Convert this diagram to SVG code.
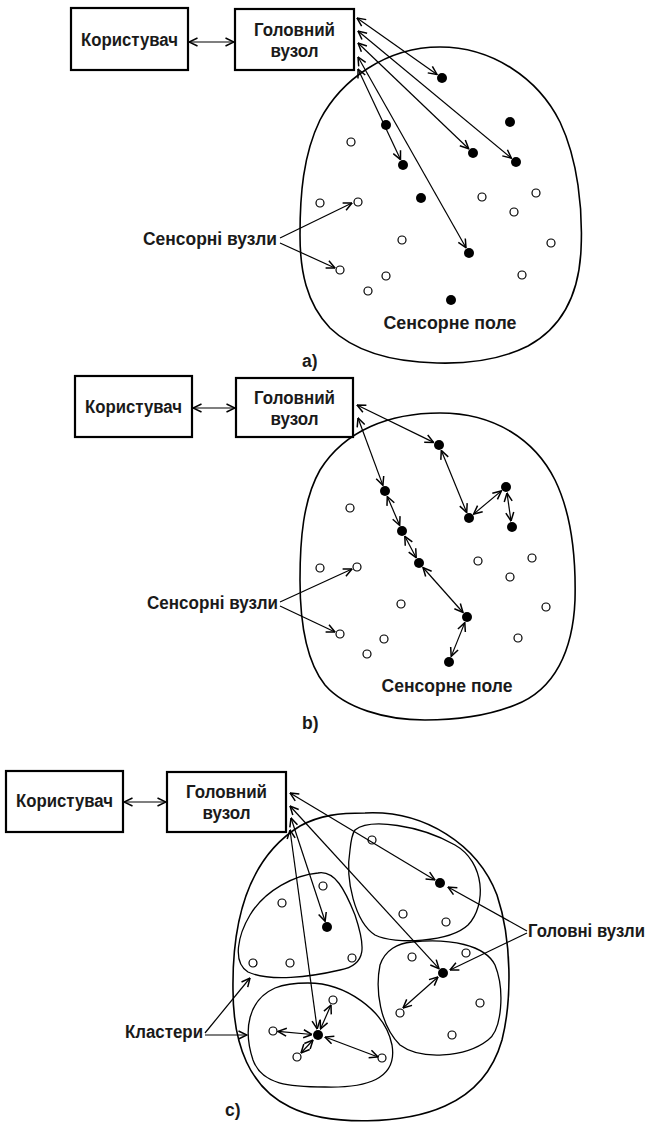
<svg xmlns="http://www.w3.org/2000/svg" width="648" height="1127" viewBox="0 0 648 1127">
<defs>
<marker id="ah" viewBox="0 0 10 10" refX="9.5" refY="5" markerWidth="10" markerHeight="10" markerUnits="userSpaceOnUse" orient="auto-start-reverse">
<path d="M1,1 L9.5,5 L1,9" fill="none" stroke="#000" stroke-width="1.5"/>
</marker>
<style>
.box{fill:#fff;stroke:#000;stroke-width:2.2}
.t{font-family:"Liberation Sans",Arial,sans-serif;font-weight:bold;font-size:17.5px;fill:#1a1a1a}
.tc{text-anchor:middle}
.field{fill:none;stroke:#000;stroke-width:1.6}
.cl{fill:none;stroke:#000;stroke-width:1.3}
.on{fill:#000}
.off{fill:#fff;stroke:#000;stroke-width:1.2}
.c{stroke:#000;stroke-width:1.2;fill:none}
.s{marker-end:url(#ah)}
.d{marker-start:url(#ah);marker-end:url(#ah)}
</style>
</defs>

<!-- ================= Panel a ================= -->
<g id="a-field"><path class="field" d="M 440,47 C 492,47 538,78 560,122 C 578,160 583,210 581,250 C 579,292 563,327 528,346 C 500,360 470,364 437,363 C 395,362 355,352 330,328 C 306,303 300,270 300,235 C 300,195 303,155 320,120 C 341,80 386,47 440,47 Z"/><text class="t tc" x="450" y="329" textLength="133" lengthAdjust="spacingAndGlyphs">Сенсорне поле</text></g>
<g id="a-user"><rect class="box" x="71" y="8" width="117" height="62"/><text class="t tc" x="129.5" y="46" textLength="97" lengthAdjust="spacingAndGlyphs">Користувач</text></g>
<g id="a-head"><rect class="box" x="235" y="9" width="119" height="61"/><text class="t tc" x="294.5" y="36" textLength="81" lengthAdjust="spacingAndGlyphs">Головний</text><text class="t tc" x="294.5" y="57" textLength="48" lengthAdjust="spacingAndGlyphs">вузол</text></g>
<g id="a-label"><text class="t" x="143" y="245" textLength="134" lengthAdjust="spacingAndGlyphs">Сенсорні вузли</text></g>
<g id="a-caption"><text class="t" x="302" y="367">a)</text></g>
<g id="a-nodes">
<g id="a-s1"><circle class="on" cx="442" cy="78" r="5"/></g>
<g id="a-s2"><circle class="on" cx="510" cy="122" r="5"/></g>
<g id="a-s3"><circle class="on" cx="386" cy="125" r="5"/></g>
<g id="a-s4"><circle class="on" cx="403" cy="165" r="5"/></g>
<g id="a-s5"><circle class="on" cx="473" cy="153" r="5"/></g>
<g id="a-s6"><circle class="on" cx="516" cy="162" r="5"/></g>
<g id="a-s7"><circle class="on" cx="421" cy="198" r="5"/></g>
<g id="a-s8"><circle class="on" cx="469" cy="253" r="5"/></g>
<g id="a-s9"><circle class="on" cx="451" cy="300" r="5"/></g>
<g id="a-o1"><circle class="off" cx="351" cy="142" r="4"/></g>
<g id="a-o2"><circle class="off" cx="320" cy="203" r="4"/></g>
<g id="a-o3"><circle class="off" cx="358" cy="202" r="4"/></g>
<g id="a-o4"><circle class="off" cx="482" cy="197" r="4"/></g>
<g id="a-o5"><circle class="off" cx="536" cy="193" r="4"/></g>
<g id="a-o6"><circle class="off" cx="514" cy="212" r="4"/></g>
<g id="a-o7"><circle class="off" cx="402" cy="240" r="4"/></g>
<g id="a-o8"><circle class="off" cx="551" cy="243" r="4"/></g>
<g id="a-o9"><circle class="off" cx="340" cy="270" r="4"/></g>
<g id="a-o10"><circle class="off" cx="386" cy="276" r="4"/></g>
<g id="a-o11"><circle class="off" cx="368" cy="291" r="4"/></g>
<g id="a-o12"><circle class="off" cx="522" cy="275" r="4"/></g>
</g>
<g id="a-connectors">
<line class="c d" x1="189" y1="42" x2="234" y2="42"/>
<line class="c d" x1="357" y1="18" x2="437" y2="74.5"/>
<line class="c d" x1="358" y1="31" x2="511.4" y2="158.2"/>
<line class="c d" x1="358" y1="43" x2="468.7" y2="148.8"/>
<line class="c d" x1="358" y1="57" x2="466" y2="247.8"/>
<line class="c d" x1="358" y1="69" x2="400.5" y2="159.6"/>
<line class="c s" x1="280" y1="238" x2="352" y2="203"/>
<line class="c s" x1="280" y1="243" x2="335" y2="268"/>
</g>

<!-- ================= Panel b ================= -->
<g id="b-field"><path class="field" d="M 440,413 C 495,413 535,440 555,480 C 572,515 576,560 575,600 C 573,650 555,690 515,705 C 485,717 455,720 425,720 C 385,720 345,708 325,685 C 305,660 300,620 300,580 C 300,540 303,500 320,470 C 345,430 390,413 440,413 Z"/><text class="t tc" x="447" y="692" textLength="131" lengthAdjust="spacingAndGlyphs">Сенсорне поле</text></g>
<g id="b-user"><rect class="box" x="75" y="376" width="117" height="61"/><text class="t tc" x="133.5" y="413" textLength="97" lengthAdjust="spacingAndGlyphs">Користувач</text></g>
<g id="b-head"><rect class="box" x="236" y="378" width="117" height="59"/><text class="t tc" x="294.5" y="404" textLength="81" lengthAdjust="spacingAndGlyphs">Головний</text><text class="t tc" x="294.5" y="425" textLength="48" lengthAdjust="spacingAndGlyphs">вузол</text></g>
<g id="b-label"><text class="t" x="147" y="609" textLength="131" lengthAdjust="spacingAndGlyphs">Сенсорні вузли</text></g>
<g id="b-caption"><text class="t" x="302" y="729">b)</text></g>
<g id="b-nodes">
<g id="b-s1"><circle class="on" cx="439" cy="445" r="5"/></g>
<g id="b-s2"><circle class="on" cx="385" cy="491" r="5"/></g>
<g id="b-s3"><circle class="on" cx="469" cy="518" r="5"/></g>
<g id="b-s4"><circle class="on" cx="506" cy="487" r="5"/></g>
<g id="b-s5"><circle class="on" cx="512" cy="527" r="5"/></g>
<g id="b-s6"><circle class="on" cx="402" cy="531" r="5"/></g>
<g id="b-s7"><circle class="on" cx="419" cy="563" r="5"/></g>
<g id="b-s8"><circle class="on" cx="467" cy="617" r="5"/></g>
<g id="b-s9"><circle class="on" cx="449" cy="662" r="5"/></g>
<g id="b-o1"><circle class="off" cx="350" cy="508" r="4"/></g>
<g id="b-o2"><circle class="off" cx="320" cy="568" r="4"/></g>
<g id="b-o3"><circle class="off" cx="357" cy="567" r="4"/></g>
<g id="b-o4"><circle class="off" cx="478" cy="561" r="4"/></g>
<g id="b-o5"><circle class="off" cx="532" cy="558" r="4"/></g>
<g id="b-o6"><circle class="off" cx="510" cy="577" r="4"/></g>
<g id="b-o7"><circle class="off" cx="401" cy="604" r="4"/></g>
<g id="b-o8"><circle class="off" cx="546" cy="607" r="4"/></g>
<g id="b-o9"><circle class="off" cx="340" cy="634" r="4"/></g>
<g id="b-o10"><circle class="off" cx="384" cy="639" r="4"/></g>
<g id="b-o11"><circle class="off" cx="367" cy="654" r="4"/></g>
<g id="b-o12"><circle class="off" cx="518" cy="638" r="4"/></g>
</g>
<g id="b-connectors">
<line class="c d" x1="193" y1="408" x2="235" y2="408"/>
<line class="c d" x1="357" y1="405" x2="433.6" y2="442.4"/>
<line class="c d" x1="358" y1="418" x2="382.9" y2="485.4"/>
<line class="c d" x1="441.3" y1="450.5" x2="466.7" y2="512.5"/>
<line class="c d" x1="473.6" y1="514.1" x2="501.4" y2="490.9"/>
<line class="c d" x1="507" y1="493" x2="511" y2="521"/>
<line class="c d" x1="387.3" y1="496.5" x2="399.7" y2="525.5"/>
<line class="c d" x1="404.8" y1="536.3" x2="416.2" y2="557.7"/>
<line class="c d" x1="423" y1="567.5" x2="463" y2="612.5"/>
<line class="c d" x1="464.8" y1="622.6" x2="451.2" y2="656.4"/>
<line class="c s" x1="280" y1="602" x2="352" y2="569"/>
<line class="c s" x1="280" y1="606" x2="335" y2="632"/>
</g>

<!-- ================= Panel c ================= -->
<g id="c-field"><path class="field" d="M 365,813 C 425,810 478,845 497,895 C 512,940 512,1000 502,1040 C 492,1075 470,1095 445,1106 C 405,1124 330,1127 290,1107 C 250,1088 233,1045 233,990 C 232,920 248,858 300,826 C 320,815 340,813 365,813 Z"/></g>
<g id="c-cluster1"><path class="cl" d="M 355,830 C 370,818 420,825 455,845 C 485,862 487,905 468,925 C 450,942 395,945 375,935 C 355,922 345,880 350,850 C 351,840 352,834 355,830 Z"/></g>
<g id="c-cluster2"><path class="cl" d="M 318,873 C 335,870 345,890 355,915 C 365,945 368,965 340,970 C 310,977 270,982 248,972 C 232,962 238,935 250,915 C 265,890 295,875 318,873 Z"/></g>
<g id="c-cluster3"><path class="cl" d="M 308,983 C 345,983 385,1010 392,1045 C 398,1080 365,1088 325,1087 C 290,1087 262,1085 253,1060 C 243,1030 248,1000 275,988 C 285,984 296,983 308,983 Z"/></g>
<g id="c-cluster4"><path class="cl" d="M 412,942 C 450,938 485,945 495,965 C 505,990 502,1030 488,1040 C 465,1058 420,1060 400,1045 C 380,1025 375,990 380,965 C 385,950 398,943 412,942 Z"/></g>
<g id="c-user"><rect class="box" x="6" y="771" width="117" height="61"/><text class="t tc" x="64.5" y="807" textLength="97" lengthAdjust="spacingAndGlyphs">Користувач</text></g>
<g id="c-head"><rect class="box" x="167" y="772" width="119" height="60"/><text class="t tc" x="226.5" y="798" textLength="81" lengthAdjust="spacingAndGlyphs">Головний</text><text class="t tc" x="226.5" y="819" textLength="48" lengthAdjust="spacingAndGlyphs">вузол</text></g>
<g id="c-label-heads"><text class="t" x="528" y="937" textLength="117" lengthAdjust="spacingAndGlyphs">Головні вузли</text></g>
<g id="c-label-clusters"><text class="t" x="125" y="1038" textLength="78" lengthAdjust="spacingAndGlyphs">Кластери</text></g>
<g id="c-caption"><text class="t" x="225" y="1116">c)</text></g>
<g id="c-nodes">
<g id="c-h1"><circle class="on" cx="440" cy="883" r="5"/></g>
<g id="c-h2"><circle class="on" cx="443" cy="973" r="5"/></g>
<g id="c-h3"><circle class="on" cx="327" cy="927" r="5"/></g>
<g id="c-h4"><circle class="on" cx="318" cy="1035" r="5"/></g>
<g id="c-o1"><circle class="off" cx="372" cy="840" r="4"/></g>
<g id="c-o2"><circle class="off" cx="403" cy="914" r="4"/></g>
<g id="c-o3"><circle class="off" cx="446" cy="922" r="4"/></g>
<g id="c-o4"><circle class="off" cx="323" cy="886" r="4"/></g>
<g id="c-o5"><circle class="off" cx="282" cy="903" r="4"/></g>
<g id="c-o6"><circle class="off" cx="253" cy="963" r="4"/></g>
<g id="c-o7"><circle class="off" cx="290" cy="963" r="4"/></g>
<g id="c-o8"><circle class="off" cx="352" cy="958" r="4"/></g>
<g id="c-o9"><circle class="off" cx="412" cy="957" r="4"/></g>
<g id="c-o10"><circle class="off" cx="466" cy="953" r="4"/></g>
<g id="c-o11"><circle class="off" cx="480" cy="1003" r="4"/></g>
<g id="c-o12"><circle class="off" cx="452" cy="1035" r="4"/></g>
<g id="c-o13"><circle class="off" cx="400" cy="1013" r="4"/></g>
<g id="c-o14"><circle class="off" cx="333" cy="1000" r="4"/></g>
<g id="c-o15"><circle class="off" cx="273" cy="1031" r="4"/></g>
<g id="c-o16"><circle class="off" cx="297" cy="1057" r="4"/></g>
<g id="c-o17"><circle class="off" cx="382" cy="1058" r="4"/></g>
</g>
<g id="c-connectors">
<line class="c d" x1="124" y1="802" x2="166" y2="802"/>
<line class="c d" x1="290" y1="793" x2="434.9" y2="879.9"/>
<line class="c d" x1="290" y1="806" x2="439" y2="968.6"/>
<line class="c d" x1="291" y1="818" x2="325.1" y2="921.3"/>
<line class="c d" x1="290" y1="830" x2="317.2" y2="1029"/>
<line class="c d" x1="312" y1="1034.5" x2="278" y2="1031.4"/>
<line class="c d" x1="320.5" y1="1029" x2="331" y2="1005"/>
<line class="c d" x1="313" y1="1040" x2="301" y2="1053"/>
<line class="c d" x1="325" y1="1037" x2="378" y2="1057"/>
<line class="c d" x1="438" y1="977" x2="403" y2="1008"/>
<line class="c s" x1="527" y1="931" x2="448" y2="887"/>
<line class="c s" x1="527" y1="933" x2="450" y2="970"/>
<line class="c s" x1="205" y1="1033" x2="250" y2="978"/>
<line class="c s" x1="205" y1="1035" x2="247" y2="1035"/>
</g>
</svg>
